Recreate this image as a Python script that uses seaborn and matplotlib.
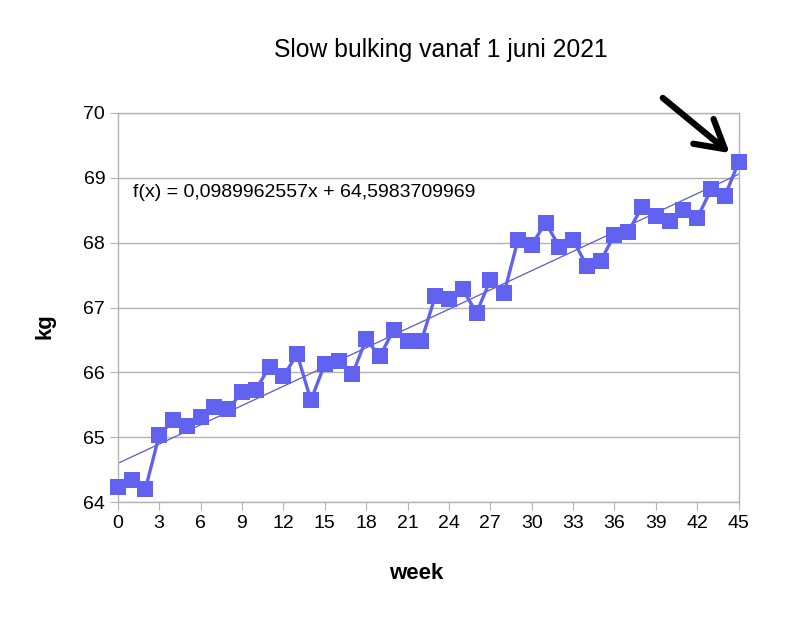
import numpy as np
import pandas as pd
import seaborn as sns
import matplotlib.pyplot as plt

# gewicht per week
weeks = list(range(46))
kg = [64.23, 64.34, 64.20, 65.03, 65.26, 65.17, 65.31, 65.47, 65.43, 65.70,
      65.73, 66.09, 65.94, 66.28, 65.57, 66.13, 66.17, 65.97, 66.51, 66.25,
      66.66, 66.48, 66.48, 67.17, 67.13, 67.28, 66.92, 67.42, 67.22, 68.04,
      67.96, 68.31, 67.94, 68.04, 67.64, 67.72, 68.12, 68.17, 68.55, 68.41,
      68.34, 68.50, 68.38, 68.82, 68.72, 69.24]
slope = 0.0989962557
intercept = 64.5983709969
xticks = list(range(0, 46, 3))
yticks = [64, 65, 66, 67, 68, 69, 70]

df = pd.DataFrame({"week": weeks, "kg": kg})

sns.set_style("white")
plt.rcParams['font.family'] = ['Liberation Sans', 'DejaVu Sans']
plt.rcParams['text.color'] = 'black'
plt.rcParams['axes.labelcolor'] = 'black'

fig = plt.figure(figsize=(7.85, 6.2), dpi=100)
ax = fig.add_axes([0.150, 0.190, 0.791, 0.628])

ax.grid(axis='y', color='#b3b3b3', lw=1)
ax.set_axisbelow(True)

# trendlijn
x = np.array([0, 45])
ax.plot(x, slope * x + intercept, color='#5a5ac8', lw=0.9, zorder=2)

sns.lineplot(data=df, x='week', y='kg', ax=ax, color='#6262f0', lw=2.4,
             marker='s', markersize=11, markeredgewidth=0, clip_on=False, zorder=3)

ax.set_xlim(0, 45)
ax.set_ylim(64, 70)
ax.set_xticks(xticks)
ax.set_yticks(yticks)
ax.tick_params(axis='both', labelsize=14, length=6, color='#b3b3b3', labelcolor='black',
               direction='out', bottom=True, left=True, pad=3)
for s in ax.spines.values():
    s.set_color('#b3b3b3')
    s.set_linewidth(1)

ax.set_xlabel('week', fontsize=16, fontweight='bold')
ax.set_ylabel('kg', fontsize=16, fontweight='bold')
ax.xaxis.set_label_coords(0.480, -0.157)
ax.yaxis.set_label_coords(-0.100, 0.452)
fig.suptitle('Slow bulking vanaf 1 juni 2021', fontsize=17.8, x=0.562, y=0.938)

ax.text(1.1, 68.77, 'f(x) = 0,0989962557x + 64,5983709969', fontsize=14, va='center')

ax.annotate('', xy=(44.35, 69.38), xytext=(39.5, 70.23), annotation_clip=False,
            arrowprops=dict(arrowstyle='->,head_length=2.0,head_width=1.15', lw=4.5,
                            color='black', shrinkA=0, shrinkB=0))

fig.savefig('out.png', dpi=100)
